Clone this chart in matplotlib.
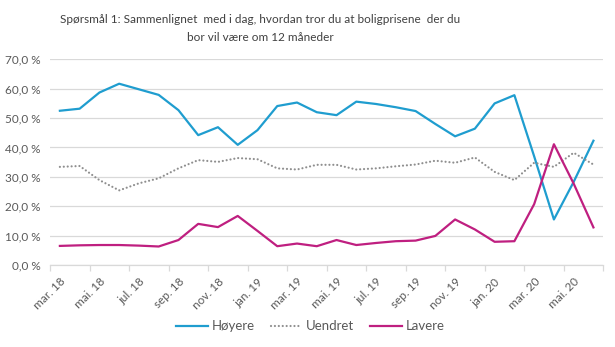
import matplotlib
import numpy as np

matplotlib.use("Agg")
import matplotlib.pyplot as plt
from matplotlib.ticker import FixedLocator, FuncFormatter

plt.rcParams["font.family"] = ["Lato", "DejaVu Sans"]

MONTHS = [
    "mar. 18", "apr. 18", "mai. 18", "jun. 18", "jul. 18", "aug. 18", "sep. 18",
    "okt. 18", "nov. 18", "des. 18", "jan. 19", "feb. 19", "mar. 19", "apr. 19",
    "mai. 19", "jun. 19", "jul. 19", "aug. 19", "sep. 19", "okt. 19", "nov. 19",
    "des. 19", "jan. 20", "feb. 20", "mar. 20", "apr. 20", "mai. 20", "jun. 20",
]

HOYERE = [52.5, 53.2, 58.7, 61.7, 59.8, 57.9, 52.7, 44.2, 46.9, 40.9, 45.9, 54.1, 55.3, 52.0,
          51.0, 55.6, 54.8, 53.7, 52.4, 48.0, 43.8, 46.4, 55.0, 57.8, 37.0, 15.5, 28.3, 42.3]
UENDRET = [33.4, 33.7, 28.9, 25.4, 27.8, 29.5, 32.9, 35.7, 35.1, 36.4, 36.0, 32.9, 32.5, 34.1,
           34.1, 32.5, 32.9, 33.6, 34.2, 35.5, 34.8, 36.6, 31.7, 28.9, 34.8, 33.4, 38.2, 34.2]
LAVERE = [6.5, 6.7, 6.8, 6.8, 6.6, 6.3, 8.5, 14.0, 12.9, 16.7, 11.6, 6.4, 7.3, 6.4,
          8.5, 6.8, 7.5, 8.1, 8.3, 9.9, 15.5, 12.1, 7.9, 8.1, 20.7, 41.1, 27.7, 12.8]

TITLE = "Spørsmål 1: Sammenlignet  med i dag, hvordan tror du at boligprisene  der du\nbor vil være om 12 måneder"

BLUE = "#1f9dcf"
GRAY = "#8f8f8f"
PINK = "#bf1f80"
TEXT = "#595959"
GRID = "#d9d9d9"

fig = plt.figure(figsize=(6.15, 3.47), dpi=100)
ax = fig.add_axes([0.0813, 0.2363, 0.8997, 0.5927])

x = np.arange(len(MONTHS))
ax.plot(x, HOYERE, color=BLUE, lw=1.6, label="Høyere", solid_joinstyle="round")
ax.plot(x, UENDRET, color=GRAY, lw=1.6, linestyle=(0, (0.01, 1.75)),
        dash_capstyle="round", label="Uendret")
ax.plot(x, LAVERE, color=PINK, lw=1.6, label="Lavere", solid_joinstyle="round")

ax.set_xlim(-0.5, len(MONTHS) - 0.5)
ax.set_ylim(0, 70)
ax.set_yticks(np.arange(0, 71, 10))
ax.yaxis.set_major_formatter(FuncFormatter(lambda v, p: f"{v:.1f} %".replace(".", ",")))
ax.grid(axis="y", color=GRID, lw=0.9)
ax.set_axisbelow(True)

ax.set_xticks(x[::2])
ax.set_xticklabels(MONTHS[::2], rotation=45, ha="right", rotation_mode="anchor")
ax.xaxis.set_minor_locator(FixedLocator(np.arange(-0.5, len(MONTHS), 2)))
ax.tick_params(axis="x", which="major", length=0, pad=8, labelsize=8.5, colors=TEXT)
ax.tick_params(axis="x", which="minor", length=4, color=GRID, width=0.9)
ax.tick_params(axis="y", length=0, pad=7, labelsize=8.5, colors=TEXT)

for s in ["top", "right", "left"]:
    ax.spines[s].set_visible(False)
ax.spines["bottom"].set_color(GRID)
ax.spines["bottom"].set_linewidth(0.9)

fig.text(0.423, 0.918, TITLE, ha="center", va="center", multialignment="center",
         fontsize=8.5, color="#404040", linespacing=1.75)

fig.legend(loc="center", bbox_to_anchor=(0.505, 0.06), ncol=3, frameon=False,
           fontsize=9.5, handlelength=2.4, handletextpad=0.3, columnspacing=1.2,
           labelcolor=TEXT)

fig.savefig("out.png", dpi=100)
